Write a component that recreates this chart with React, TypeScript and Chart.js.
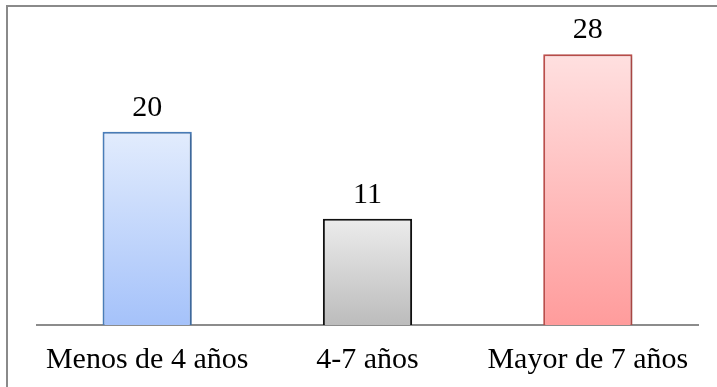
import React, { useEffect, useRef } from "react";
import { Chart, registerables } from "chart.js";

Chart.register(...registerables);

// Age groups and their counts
const categories = ["Menos de 4 años", "4-7 años", "Mayor de 7 años"];
const counts = [20, 11, 28];

// Per-bar styling: gradient top/bottom and outline
const gradientTops = ["#e2ecfd", "#ececec", "#ffe0e0"];
const gradientBottoms = ["#a5c2fa", "#bcbcbc", "#ff9c9c"];
const outlineColors = ["#4a7ebb", "#111111", "#c0504d"];

const FONT = "'Liberation Serif', 'DejaVu Serif', serif";
const FONT_SIZE = 30;

// Draws the thin frame along the top and left edges
const framePlugin = {
  id: "frame",
  beforeDraw(chart: any) {
    const { ctx, width, height } = chart;
    ctx.save();
    ctx.strokeStyle = "#8a8a8a";
    ctx.lineWidth = 2;
    ctx.beginPath();
    ctx.moveTo(width, 6);
    ctx.lineTo(7, 6);
    ctx.lineTo(7, height);
    ctx.stroke();
    ctx.restore();
  },
};

// Gives each bar a vertical gradient spanning its own height
const gradientPlugin = {
  id: "barGradient",
  beforeDatasetsDraw(chart: any) {
    const meta = chart.getDatasetMeta(0);
    meta.data.forEach((bar: any, i: number) => {
      const top = bar.y;
      const bottom = bar.base;
      if (!isFinite(top) || !isFinite(bottom)) return;
      const g = chart.ctx.createLinearGradient(0, top, 0, bottom);
      g.addColorStop(0, gradientTops[i]);
      g.addColorStop(1, gradientBottoms[i]);
      bar.options.backgroundColor = g;
    });
  },
};

// Soft drop shadow behind the bars
const shadowPlugin = {
  id: "barShadow",
  beforeDatasetsDraw(chart: any) {
    const ctx = chart.ctx;
    ctx.save();
    ctx.shadowColor = "rgba(0,0,0,0.22)";
    ctx.shadowBlur = 4;
    ctx.shadowOffsetX = 2;
    ctx.shadowOffsetY = 1;
  },
  afterDatasetsDraw(chart: any) {
    chart.ctx.restore();
  },
};

// Value labels above each bar
const valueLabelPlugin = {
  id: "valueLabels",
  afterDatasetsDraw(chart: any) {
    const { ctx } = chart;
    const meta = chart.getDatasetMeta(0);
    ctx.save();
    ctx.font = `${FONT_SIZE}px ${FONT}`;
    ctx.fillStyle = "#000";
    ctx.textAlign = "center";
    ctx.textBaseline = "alphabetic";
    meta.data.forEach((bar: any, i: number) => {
      ctx.fillText(String(counts[i]), bar.x, bar.y - 16);
    });
    ctx.restore();
  },
};

export default function App() {
  const canvasRef = useRef<HTMLCanvasElement | null>(null);

  useEffect(() => {
    const canvas = canvasRef.current;
    if (!canvas) return;
    const chart = new Chart(canvas, {
      type: "bar",
      data: {
        labels: categories,
        datasets: [
          {
            data: counts,
            backgroundColor: gradientBottoms,
            borderColor: outlineColors,
            borderWidth: 2,
            borderSkipped: "bottom",
            categoryPercentage: 1,
            barPercentage: 0.405,
          },
        ],
      },
      options: {
        animation: false,
        responsive: false,
        maintainAspectRatio: false,
        layout: { padding: { left: 37, right: 19, top: 35, bottom: 0 } },
        plugins: {
          legend: { display: false },
          tooltip: { enabled: false },
        },
        scales: {
          x: {
            grid: { display: false },
            border: { display: true, color: "#8c8c8c", width: 2 },
            ticks: {
              color: "#000",
              font: { family: FONT, size: FONT_SIZE },
              padding: 9,
              maxRotation: 0,
            },
            afterFit: (scale: any) => {
              scale.height = 62;
            },
          },
          y: {
            display: false,
            min: 0,
            max: 30,
          },
        },
      },
      plugins: [framePlugin, gradientPlugin, shadowPlugin, valueLabelPlugin],
    });
    return () => chart.destroy();
  }, []);

  return (
    <div style={{ position: "fixed", left: 0, top: 0, width: 717, height: 387, background: "#fff" }}>
      <canvas ref={canvasRef} width={717} height={387} style={{ display: "block" }} />
    </div>
  );
}
